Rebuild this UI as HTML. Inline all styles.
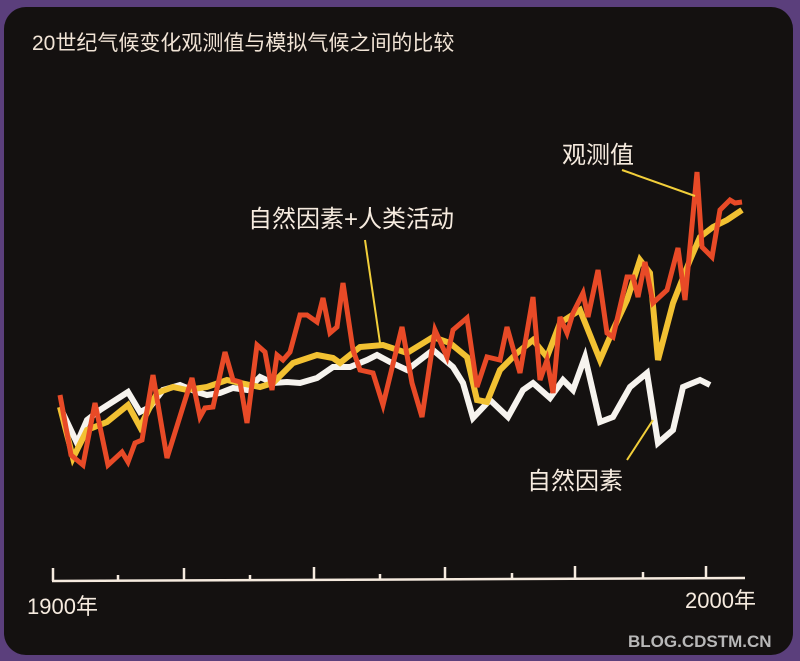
<!DOCTYPE html>
<html><head><meta charset="utf-8"><style>
html,body{margin:0;padding:0;background:#5b3f7c;}
.w{position:relative;width:800px;height:661px;overflow:hidden;background:#5b3f7c;}
.in{position:absolute;left:4px;top:7px;width:789px;height:648px;background:#141110;border-radius:22px 22px 22px 22px;}
svg{position:absolute;left:0;top:0;}
text{font-family:"Liberation Sans","Noto Sans CJK SC",sans-serif;}
</style></head><body><div class="w"><div class="in"></div>
<svg width="800" height="661" viewBox="0 0 800 661">
<text x="32" y="50" font-size="21" fill="#f1e4d6">20世纪气候变化观测值与模拟气候之间的比较</text>
<g fill="none" stroke-linejoin="miter" stroke-linecap="butt">
<polyline stroke="#f6f3ee" stroke-width="6" points="60,407 77,443 87,420 100,410 128,392 140,412 150,407 163,390 180,385 197,392 207,395 220,393 233,388 247,390 260,377 273,383 287,382 300,383 317,378 333,367 350,367 367,360 377,355 390,362 407,370 433,350 453,367 463,383 473,418 490,400 508,417 523,390 533,383 550,398 563,380 573,390 585,357 600,422 613,417 630,387 647,373 658,443 673,430 683,387 700,380 710,385"/>
<polyline stroke="#f2c132" stroke-width="6" points="60,407 73,458 87,430 107,422 128,405 140,427 157,393 173,387 187,390 207,387 227,380 240,383 260,387 273,383 293,363 317,355 333,358 340,363 360,347 383,345 407,353 433,337 450,343 467,357 477,400 487,402 500,370 517,353 533,340 547,357 560,323 580,310 600,360 613,330 627,300 640,260 650,273 658,360 673,303 690,260 700,237 713,227 727,220 742,210"/>
<polyline stroke="#e84a27" stroke-width="5" points="60,395 71,455 83,465 95,403 108,465 122,452 128,462 135,443 142,440 153,375 167,458 192,378 200,417 205,408 213,407 225,352 233,380 240,382 247,423 257,345 265,352 272,390 277,355 283,360 290,352 300,315 307,315 317,322 323,298 330,333 337,327 343,283 353,350 360,370 373,373 383,405 402,327 412,383 422,417 435,330 447,357 453,330 467,318 477,387 487,357 500,360 507,327 520,373 533,297 540,380 547,360 553,393 560,317 567,333 573,313 583,293 588,317 598,270 607,333 613,337 627,277 633,277 638,297 645,262 653,303 667,290 678,248 685,300 697,172 702,247 712,257 720,210 730,200 735,203 742,202"/>
</g>
<g stroke="#f2cf3a" stroke-width="2">
<line x1="622" y1="170" x2="695" y2="196"/>
<line x1="365" y1="240" x2="380" y2="343"/>
<line x1="653" y1="420" x2="627" y2="460"/>
</g>
<text x="562" y="163" font-size="24" fill="#f6ebdf">观测值</text>
<text x="248" y="227" font-size="24" fill="#f6ebdf">自然因素+人类活动</text>
<text x="527" y="489" font-size="24" fill="#f6ebdf">自然因素</text>
<g stroke="#f6ebdf" stroke-width="2.5" fill="none">
<line x1="52" y1="581" x2="745" y2="578"/>
<line x1="53" y1="568" x2="53" y2="581"/>
<line x1="118" y1="575" x2="118" y2="581"/>
<line x1="184" y1="568" x2="184" y2="581"/>
<line x1="250" y1="575" x2="250" y2="580"/>
<line x1="314" y1="567" x2="314" y2="580"/>
<line x1="380" y1="574" x2="380" y2="580"/>
<line x1="445" y1="567" x2="445" y2="580"/>
<line x1="512" y1="573" x2="512" y2="579"/>
<line x1="575" y1="566" x2="575" y2="579"/>
<line x1="643" y1="572" x2="643" y2="579"/>
<line x1="706" y1="566" x2="706" y2="578"/>
</g>
<text x="27" y="614" font-size="22" fill="#f6ebdf">1900年</text>
<text x="685" y="608" font-size="22" fill="#f6ebdf">2000年</text>
<text x="628" y="647" font-size="17" font-weight="bold" fill="#b8b8b8">BLOG.CDSTM.CN</text>
</svg></div></body></html>
